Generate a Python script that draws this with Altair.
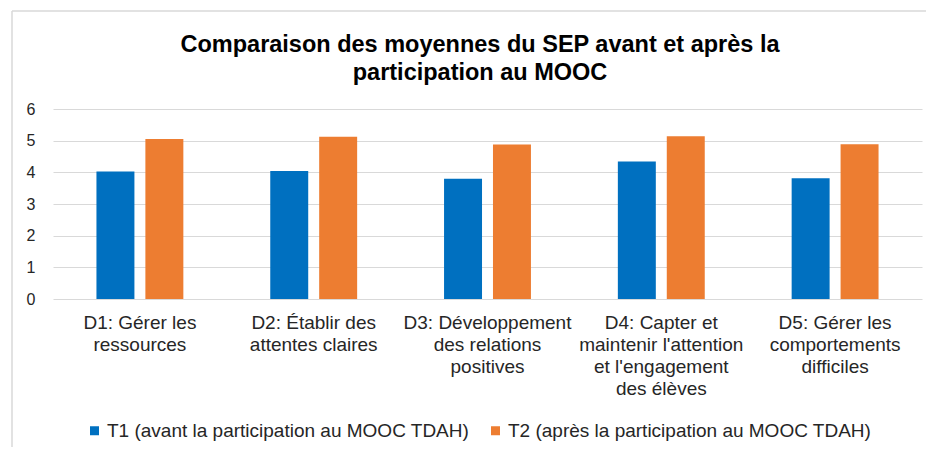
import altair as alt
import pandas as pd

title_lines = [
    "Comparaison des moyennes du SEP avant et après la",
    "participation au MOOC",
]
categories = [
    "D1: Gérer les\nressources",
    "D2: Établir des\nattentes claires",
    "D3: Développement\ndes relations\npositives",
    "D4: Capter et\nmaintenir l'attention\net l'engagement\ndes élèves",
    "D5: Gérer les\ncomportements\ndifficiles",
]
series = [
    "T1 (avant la participation au MOOC TDAH)",
    "T2 (après la participation au MOOC TDAH)",
]
t1_values = [4.03, 4.04, 3.80, 4.34, 3.81]
t2_values = [5.05, 5.12, 4.88, 5.14, 4.89]
colors = ["#0070C0", "#ED7D31"]
y_ticks = [0, 1, 2, 3, 4, 5, 6]

rows = []
for c, a, b in zip(categories, t1_values, t2_values):
    rows.append({"cat": c, "series": series[0], "value": a})
    rows.append({"cat": c, "series": series[1], "value": b})
df = pd.DataFrame(rows)

FONT = "Liberation Sans"

bars = alt.Chart(df).mark_bar().encode(
    x=alt.X(
        "cat:N",
        sort=categories,
        scale=alt.Scale(paddingInner=0.5, paddingOuter=0.25),
        axis=alt.Axis(
            title=None,
            labelAngle=0,
            labelExpr="split(datum.label, '\\n')",
            labelFontSize=19,
            labelLineHeight=22,
            labelFont=FONT,
            labelColor="#262626",
            labelPadding=14,
            labelLimit=400,
            labelOverlap=False,
            domain=False,
            ticks=False,
            grid=False,
        ),
    ),
    xOffset=alt.XOffset(
        "series:N", sort=series, scale=alt.Scale(paddingInner=0.224, paddingOuter=0)
    ),
    y=alt.Y(
        "value:Q",
        scale=alt.Scale(domain=[0, 6]),
        axis=alt.Axis(
            title=None,
            values=y_ticks,
            domain=False,
            ticks=False,
            labelPadding=18,
            labelFontSize=16,
            labelFont=FONT,
            labelColor="#262626",
            gridColor="#D9D9D9",
            gridWidth=1,
        ),
    ),
    color=alt.Color(
        "series:N",
        sort=series,
        scale=alt.Scale(domain=series, range=colors),
        legend=alt.Legend(
            title=None,
            orient="none",
            legendX=32,
            legendY=312,
            direction="horizontal",
            symbolType="square",
            symbolSize=81,
            symbolStrokeWidth=0,
            labelFontSize=19,
            labelFont=FONT,
            labelColor="#262626",
            labelOffset=3,
            columnPadding=16,
            labelLimit=500,
        ),
    ),
)

title_df = pd.DataFrame({"t": ["\n".join(title_lines)]})
title = alt.Chart(title_df).mark_text(
    font=FONT,
    fontSize=23.5,
    fontWeight="bold",
    color="#000000",
    lineHeight=28,
    lineBreak="\n",
    align="center",
    baseline="alphabetic",
).encode(text="t:N", x=alt.value(427), y=alt.value(-57))

frame_df = pd.DataFrame({"k": [0]})
frame_top = alt.Chart(frame_df).mark_rule(color="#D9D9D9", strokeWidth=1.5).encode(
    x=alt.value(-41), x2=alt.value(873), y=alt.value(-98)
)
frame_left = alt.Chart(frame_df).mark_rule(color="#D9D9D9", strokeWidth=1.5).encode(
    x=alt.value(-41), y=alt.value(-98), y2=alt.value(338)
)

chart = alt.layer(bars, title, frame_top, frame_left).properties(
    width=869,
    height=190,
    background="white",
    autosize=alt.AutoSizeParams(type="none"),
    padding={"left": 45, "top": 101, "right": 4, "bottom": 148},
).configure_view(strokeWidth=0, stroke="transparent")

chart.save("out.html", embed_options={"renderer": "svg", "actions": False})
